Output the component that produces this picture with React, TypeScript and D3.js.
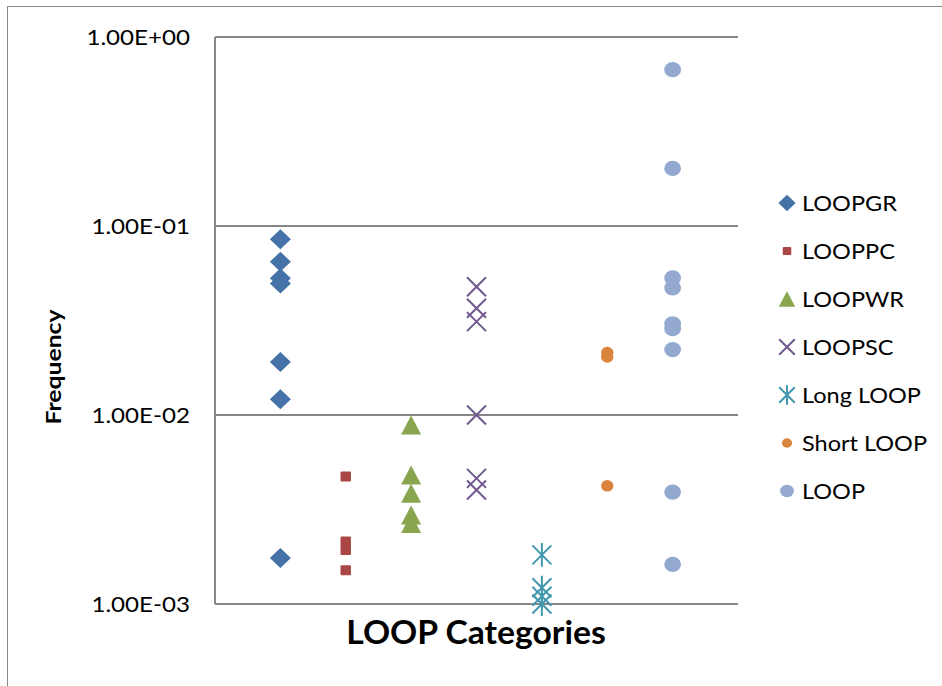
import * as d3 from "d3";

const WIDTH = 942;
const HEIGHT = 686;
const PLOT = { left: 215, right: 738, top: 37, bottom: 604 };

// categories (x = 1..7 on a 0..8 value axis)
const categories = ["LOOPGR", "LOOPPC", "LOOPWR", "LOOPSC", "Long LOOP", "Short LOOP", "LOOP"];

// frequencies
const loopgr = [0.085, 0.0647, 0.0529, 0.0497, 0.0191, 0.0121, 0.00175];
const looppc = [0.00472, 0.00214, 0.00193, 0.00151];
const loopwr = [0.00885, 0.00482, 0.00385, 0.00296, 0.00267];
const loopsc = [0.0477, 0.0367, 0.0312, 0.01, 0.00462, 0.00401];
const longLoop = [0.00182, 0.00122, 0.0011, 0.001];
const shortLoop = [0.0214, 0.0203, 0.00422];
const loop = [0.672, 0.2017, 0.0531, 0.0471, 0.0304, 0.0286, 0.0222, 0.00391, 0.00162];

const yTicks = [1, 0.1, 0.01, 0.001];
const yTickLabels = ["1.00E+00", "1.00E-01", "1.00E-02", "1.00E-03"];

const seriesValues = [loopgr, looppc, loopwr, loopsc, longLoop, shortLoop, loop];
const colors = ["#4572A7", "#AA4643", "#89A54E", "#71588F", "#4198AF", "#DB843D", "#93A9CF"];
const shapes = ["diamond", "square", "triangle", "x", "star", "smallCircle", "circle"];

const FONT = "Lato, 'DejaVu Sans', sans-serif";
// the reference is a little wider than tall, so text gets a slight horizontal stretch
const STRETCH = 1.12;

// draws a marker centred on 0,0
const Marker = ({ shape, color, k = 1 }: { shape: string; color: string; k?: number }) => {
    if (shape === "diamond") {
        const w = 10.5 * k, h = 10 * k;
        return <path d={`M0,${-h}L${w},0L0,${h}L${-w},0Z`} fill={color} />;
    }
    if (shape === "square") {
        return <rect x={-5.2 * k} y={-5 * k} width={10.4 * k} height={10 * k} rx={1} fill={color} />;
    }
    if (shape === "triangle") {
        const w = 10 * k, h = 9.5 * k;
        return <path d={`M0,${-h}L${w},${h}L${-w},${h}Z`} fill={color} />;
    }
    if (shape === "x") {
        const s = 9.5 * k;
        return <path d={`M${-s},${-s}L${s},${s}M${-s},${s}L${s},${-s}`} stroke={color} strokeWidth={2} fill="none" />;
    }
    if (shape === "star") {
        const s = 9.5 * k;
        return (
            <path
                d={`M${-s},${-s}L${s},${s}M${-s},${s}L${s},${-s}M0,${-s * 1.25}L0,${s * 1.25}`}
                stroke={color}
                strokeWidth={2}
                fill="none"
            />
        );
    }
    if (shape === "smallCircle") {
        return <ellipse rx={6.2 * k} ry={5.8 * k} fill={color} />;
    }
    return <ellipse rx={8.4 * k} ry={7.6 * k} fill={color} />;
};

export default function App() {
    const xScale = d3.scaleLinear().domain([0, 8]).range([PLOT.left, PLOT.right]);
    const yScale = d3.scaleLog().domain([0.001, 1]).range([PLOT.bottom, PLOT.top]);

    const grid = yTicks.map((t, i) => (
        <g key={i}>
            <line
                x1={PLOT.left}
                x2={PLOT.right}
                y1={yScale(t)}
                y2={yScale(t)}
                stroke="#878787"
                strokeWidth={2}
            />
            <text
                transform={`translate(190,${yScale(t)}) scale(1.15,1)`}
                textAnchor="end"
                dominantBaseline="central"
                fontSize={21}
                fontFamily={FONT}
                fill="#000"
            >
                {yTickLabels[i]}
            </text>
        </g>
    ));

    const points = seriesValues.map((vals, si) => (
        <g key={si}>
            {vals.map((v, j) => (
                <g key={j} transform={`translate(${xScale(si + 1)},${yScale(v)})`}>
                    <Marker shape={shapes[si]} color={colors[si]} />
                </g>
            ))}
        </g>
    ));

    const legend = categories.map((c, i) => (
        <g key={c} transform={`translate(787,${203 + i * 48})`}>
            <Marker shape={shapes[i]} color={colors[i]} k={0.82} />
            <text
                transform={`translate(15,0) scale(${STRETCH},1)`}
                dominantBaseline="central"
                fontSize={21}
                fontFamily={FONT}
                fill="#000"
            >
                {c}
            </text>
        </g>
    ));

    return (
        <div style={{ position: "absolute", left: 0, top: 0 }}>
            <svg width={WIDTH} height={HEIGHT} style={{ display: "block", background: "#fff" }}>
                <rect x={7.5} y={6.5} width={1000} height={1000} fill="#fff" stroke="#878787" strokeWidth={1} />
                {grid}
                <line x1={PLOT.left} x2={PLOT.left} y1={PLOT.top} y2={PLOT.bottom} stroke="#878787" strokeWidth={2} />
                {points}
                {legend}
                <text
                    transform={`translate(61,367) rotate(-90)`}
                    textAnchor="middle"
                    fontSize={21}
                    fontWeight="bold"
                    fontFamily={FONT}
                    textLength={115}
                    lengthAdjust="spacingAndGlyphs"
                    fill="#000"
                >
                    Frequency
                </text>
                <text
                    transform={`translate(476,644) scale(1.07,1)`}
                    textAnchor="middle"
                    fontSize={31.5}
                    fontWeight="bold"
                    fontFamily={FONT}
                    fill="#000"
                >
                    LOOP Categories
                </text>
            </svg>
        </div>
    );
}
